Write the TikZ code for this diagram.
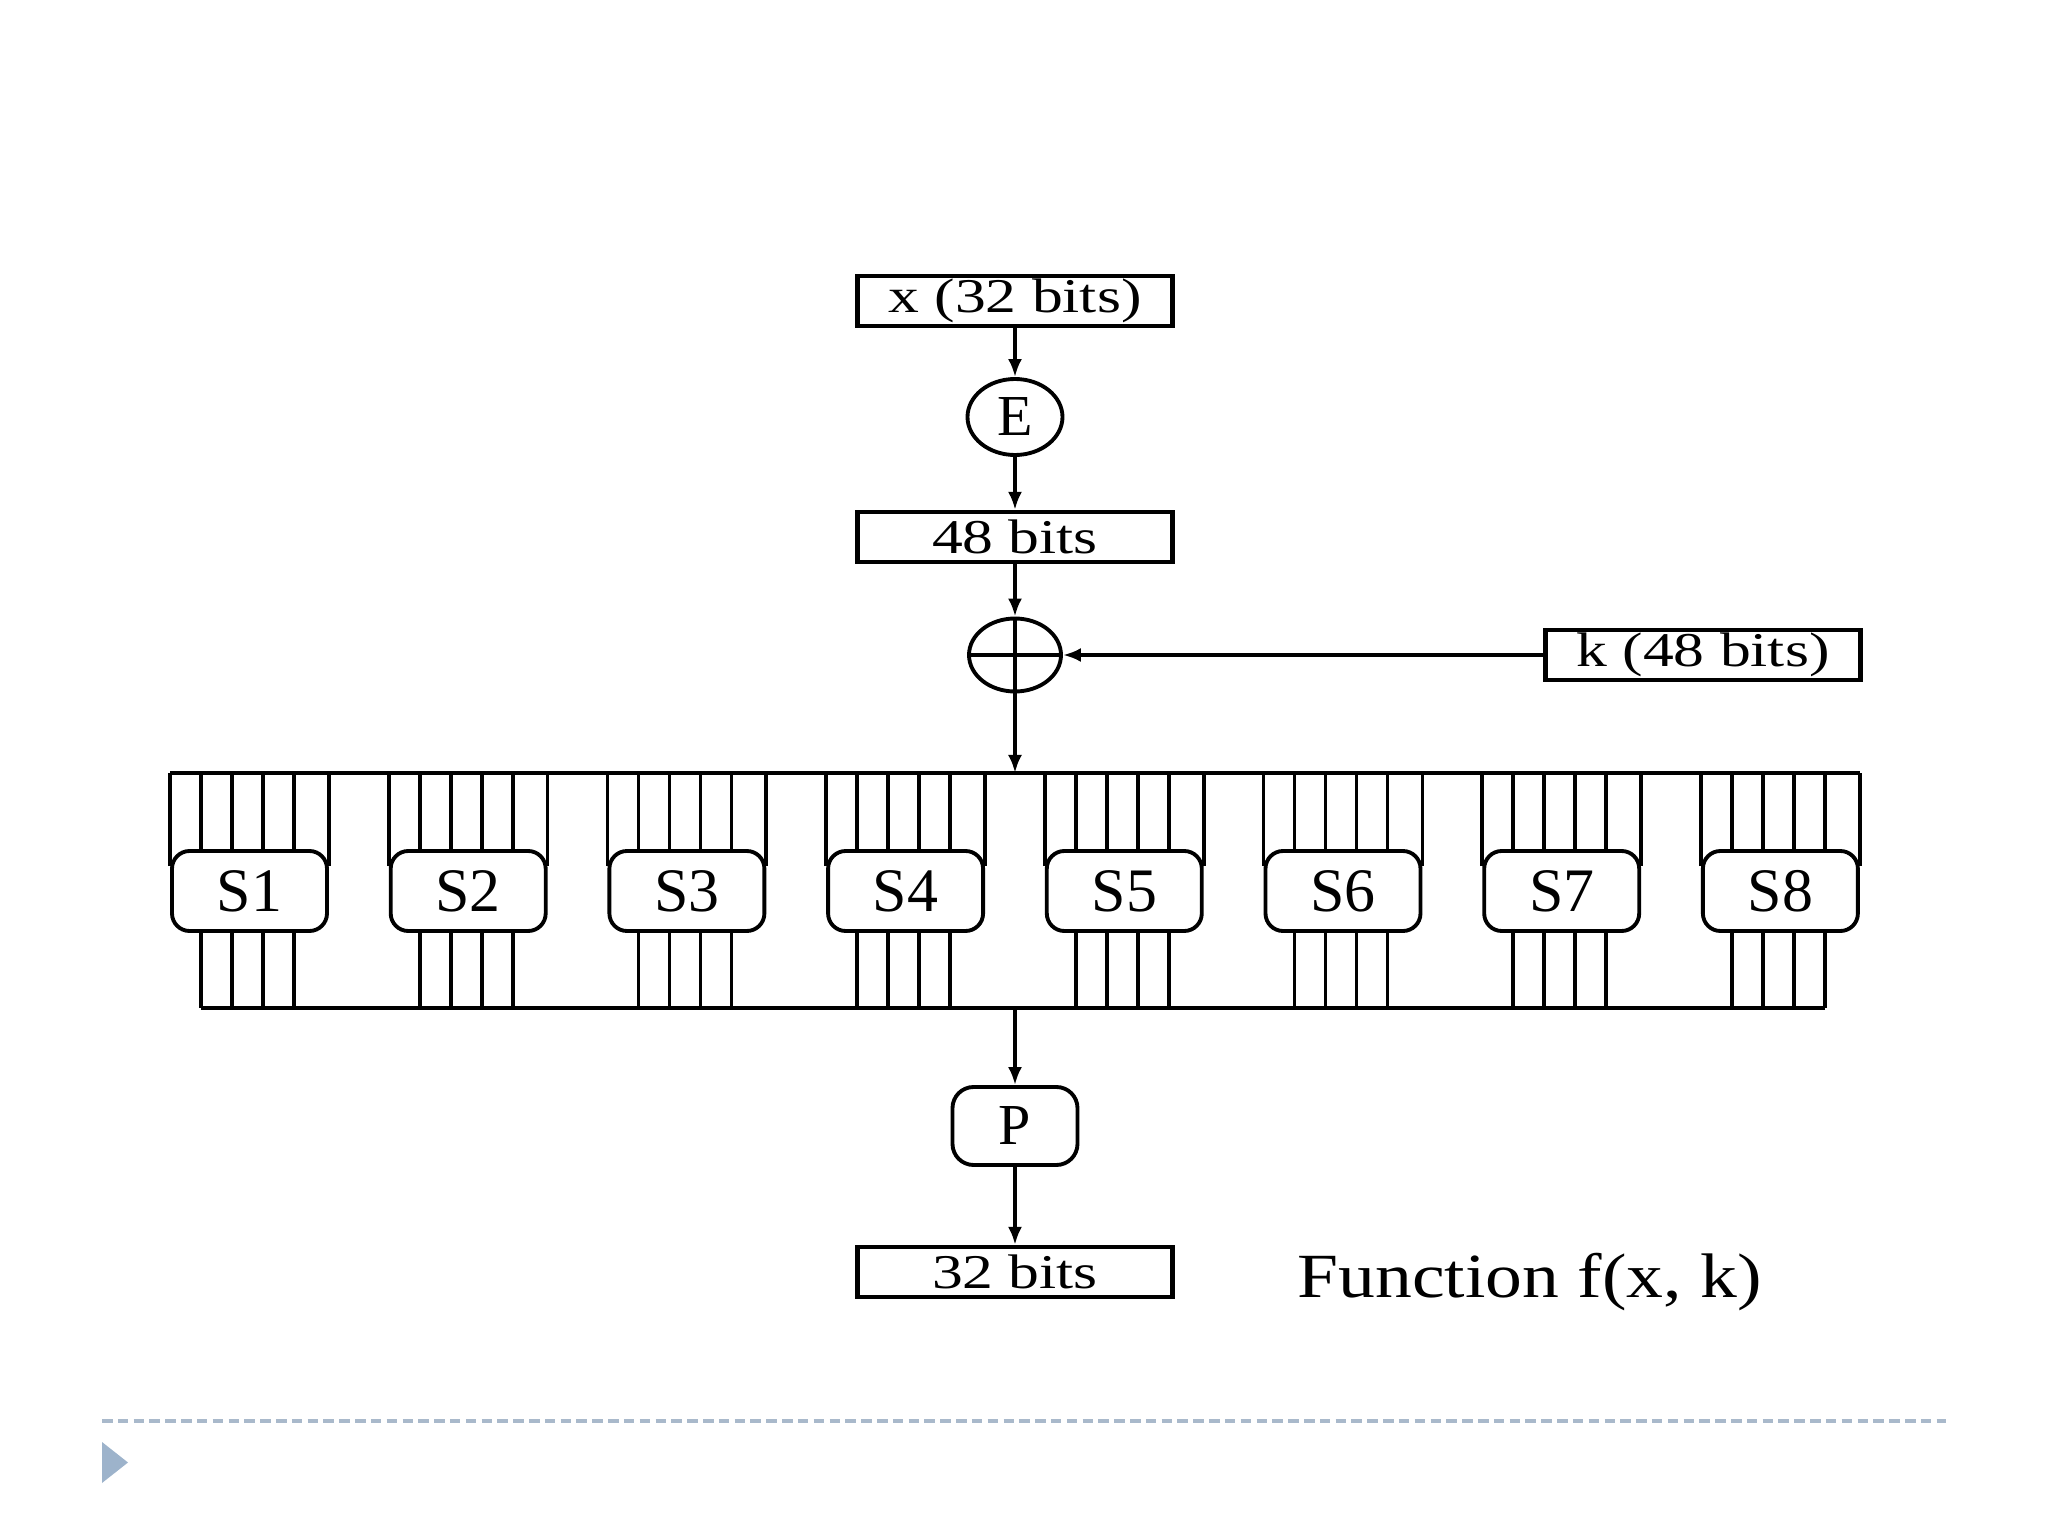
\documentclass[tikz,border=0pt]{standalone}
\usepackage{fontspec}
\setmainfont{Liberation Serif}
\newfontfamily\widefont{Liberation Serif}[FakeStretch=1.27]
\newfontfamily\titlefont{Liberation Serif}[FakeStretch=1.17]
\usetikzlibrary{shapes.geometric, arrows.meta, positioning, calc}
\definecolor{rule}{HTML}{A9B9CB}
\definecolor{marker}{HTML}{9DB3CB}

\begin{document}
\begin{tikzpicture}[>={Latex[length=1.8mm,width=1.4mm]}]
  \tikzstyle{wbox}=[rectangle, draw, line width=1.2pt, minimum width=3.15cm,
                    minimum height=0.5cm, inner sep=0pt,
                    font=\widefont\fontsize{13.8}{14}\selectfont]
  \tikzstyle{oval}=[ellipse, draw, line width=1.1pt, inner sep=0pt,
                    font=\fontsize{16.5}{17}\selectfont]
  \tikzstyle{sbox}=[rectangle, rounded corners=5pt, draw, fill=white,
                    line width=1.1pt, minimum width=1.55cm, minimum height=0.8cm,
                    inner sep=0pt, font=\fontsize{17.6}{18}\selectfont]
  \tikzstyle{wire}=[line width=1.05pt]
  \tikzstyle{arr}=[->, line width=1.05pt]
  \useasboundingbox (0,0) rectangle (20.48,-15.36);
  \node[wbox](x) at (10.15,-3.01){x (32 bits)};
  \node[oval, minimum width=0.95cm, minimum height=0.76cm](e) at (10.15,-4.17){E};
  \node[wbox](w48) at (10.15,-5.37){48 bits};
  \node[oval, minimum width=0.92cm, minimum height=0.73cm](xor) at (10.15,-6.55){};
  \coordinate (kc) at (17.03,0);
  \node[wbox](k) at (xor -| kc){k (48 bits)};
  \coordinate (bustop) at (0,-7.73);
  \coordinate (busbot) at (0,-10.08);
  \draw[arr](x)--(e);
  \draw[arr](e)--(w48);
  \draw[arr](w48)--(xor);
  \draw[wire](xor.north)--(xor.south);
  \draw[wire](xor.west)--(xor.east);
  \draw[arr](k)--(xor.east);
  \draw[arr](xor.south)--(xor.south |- bustop);
  \foreach \i in {1,...,8}{
    \node[sbox](s\i) at ({2.495+(\i-1)*2.187},-8.91){S\i};
    \draw[wire]($(s\i.north west)+(0,-0.17)$) coordinate (s\i-l) -- (s\i-l |- bustop);
    \draw[wire]($(s\i.north east)+(0,-0.17)$) coordinate (s\i-r) -- (s\i-r |- bustop);
    \foreach \k in {1,...,4}{
      \draw[wire]($(s\i.north west)+(\k*0.31,0)$) coordinate (s\i-i\k) -- (s\i-i\k |- bustop);
      \draw[wire]($(s\i.south west)+(\k*0.31,0)$) coordinate (s\i-o\k) -- (s\i-o\k |- busbot);
    }
  }
  \draw[wire](s1-l |- bustop)--(s8-r |- bustop);
  \draw[wire](s1-o1 |- busbot)--(s8-o4 |- busbot);
  \node[rectangle, rounded corners=6pt, draw, line width=1.1pt, minimum width=1.25cm,
        minimum height=0.78cm, font=\fontsize{16.5}{17}\selectfont](p) at (10.15,-11.26){P};
  \node[wbox, below=0.78cm of p](w32){32 bits};
  \draw[arr](xor.south |- busbot)--(p);
  \draw[arr](p)--(w32);
  \node[anchor=base west, inner sep=0pt, font=\titlefont\fontsize{17.9}{18}\selectfont](title)
    at (12.97,-12.97){Function f(x, k)};
  \draw[rule, line width=1.2pt, dash pattern=on 3pt off 1.5pt](1.02,-14.21)--(19.46,-14.21);
  \fill[marker](1.02,-14.42)--(1.28,-14.625)--(1.02,-14.83)--cycle;
\end{tikzpicture}
\end{document}
